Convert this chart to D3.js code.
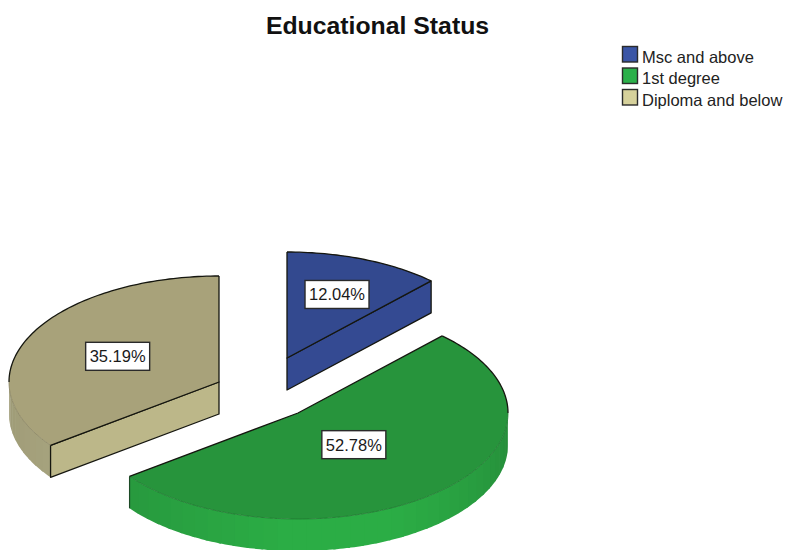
<!DOCTYPE html>
<html>
<head>
<meta charset="utf-8">
<script src="https://cdnjs.cloudflare.com/ajax/libs/d3/7.9.0/d3.min.js"></script>
<style>
html,body{margin:0;padding:0;background:#fff}
svg{display:block}
text{font-family:"Liberation Sans",Arial,sans-serif}
</style>
</head>
<body>
<svg id="chart" width="785" height="550"></svg>
<script>
// Educational status shares
const categories = ["Msc and above", "1st degree", "Diploma and below"];
const percents = [12.04, 52.78, 35.19];
const percentLabels = ["12.04%", "52.78%", "35.19%"];
const titleText = "Educational Status";

// Fill colours per slice
const topColors = ["#33498f", "#27943c", "#a8a27a"];
const cutColors = ["#344a92", "#27943c", "#bcb789"];
const legendColors = ["#3a55a6", "#2bb04a", "#d6d19b"];
const rimEdge = ["#2e4284", "#258a39", "#9d9a76"];
const rimMid = ["#344a92", "#2bad45", "#b2ad87"];

// Projection of the tilted disc, and where each exploded slice sits
const rx = 210, ry = 106, depth = 32;
const apexes = [[287, 358], [298, 413], [219, 382]];
const labelFactor = [0.645, 0.40, 0.54];

const svg = d3.select("#chart");
const slices = d3.pie().sort(null).value(d => d)(percents);
const px = d3.scaleLinear().domain([-1, 1]).range([-rx, rx]);
const py = d3.scaleLinear().domain([-1, 1]).range([ry, -ry]);

const rimPoint = (a, apex, dz = 0) =>
  [apex[0] + px(Math.sin(a)), apex[1] + py(Math.cos(a)) + dz];

const arcPoints = (a0, a1, apex, dz = 0) => {
  const n = Math.max(2, Math.ceil((a1 - a0) / 0.02));
  return d3.range(n + 1).map(i => rimPoint(a0 + (a1 - a0) * i / n, apex, dz));
};

const line = d3.line();
const frontStart = Math.PI / 2, frontEnd = Math.PI * 1.5;

slices.forEach((s, i) => {
  const apex = apexes[i];
  const g = svg.append("g");

  // Outer wall, built from narrow shaded bands where the rim faces the viewer
  const w0 = Math.max(s.startAngle, frontStart), w1 = Math.min(s.endAngle, frontEnd);
  if (w1 > w0) {
    const shade = d3.scaleLinear()
      .domain([frontStart, Math.PI * 0.85, Math.PI * 1.02, frontEnd])
      .range([rimEdge[i], rimMid[i], rimMid[i], rimEdge[i]])
      .interpolate(d3.interpolateRgb);
    const bandCount = Math.ceil((w1 - w0) / 0.07);
    d3.range(bandCount).forEach(b => {
      const a0 = w0 + (w1 - w0) * b / bandCount;
      const a1 = w0 + (w1 - w0) * (b + 1) / bandCount + 0.012;
      const upper = arcPoints(a0, Math.min(a1, w1), apex);
      const lower = arcPoints(a0, Math.min(a1, w1), apex, depth).reverse();
      g.append("path")
        .attr("d", line(upper.concat(lower)) + "Z")
        .attr("fill", shade((a0 + a1) / 2));
    });
  }

  // Cut faces that turn toward the viewer
  const cutAngle = i === 0 ? s.endAngle : (i === 2 ? s.startAngle : null);
  if (cutAngle !== null) {
    const p = rimPoint(cutAngle, apex);
    const corners = [apex, p, [p[0], p[1] + depth], [apex[0], apex[1] + depth]];
    g.append("path")
      .attr("d", line(corners) + "Z")
      .attr("fill", cutColors[i])
      .attr("stroke", "#15160f")
      .attr("stroke-width", 1.3)
      .attr("stroke-linejoin", "round");
  }

  // Short vertical edge on the far end of the wide slice
  if (i === 1) {
    const p = rimPoint(s.endAngle, apex);
    g.append("line")
      .attr("x1", p[0]).attr("y1", p[1])
      .attr("x2", p[0]).attr("y2", p[1] + depth)
      .attr("stroke", "#1c4a26").attr("stroke-width", 1.2);
  }

  // Top face
  const outline = [apex].concat(arcPoints(s.startAngle, s.endAngle, apex));
  g.append("path")
    .attr("d", line(outline) + "Z")
    .attr("fill", topColors[i]);

  // Dark edges of the top face; the front rim stays much fainter
  const hardEnd = Math.min(s.endAngle, frontStart);
  if (hardEnd > s.startAngle) {
    g.append("path")
      .attr("d", line(arcPoints(s.startAngle, hardEnd, apex)))
      .attr("fill", "none").attr("stroke", "#15160f").attr("stroke-width", 1.3);
  }
  const hardStart = Math.max(s.startAngle, frontEnd);
  if (hardStart < s.endAngle) {
    g.append("path")
      .attr("d", line(arcPoints(hardStart, s.endAngle, apex)))
      .attr("fill", "none").attr("stroke", "#15160f").attr("stroke-width", 1.3);
  }
  if (w1 > w0) {
    g.append("path")
      .attr("d", line(arcPoints(w0, w1, apex)))
      .attr("fill", "none").attr("stroke", d3.color(topColors[i]).darker(0.6)).attr("stroke-width", 0.8);
  }
  g.append("path")
    .attr("d", line([rimPoint(s.startAngle, apex), apex, rimPoint(s.endAngle, apex)]))
    .attr("fill", "none").attr("stroke", "#15160f").attr("stroke-width", 1.3)
    .attr("stroke-linejoin", "round");
});

// Percentage labels in white boxes
slices.forEach((s, i) => {
  const mid = (s.startAngle + s.endAngle) / 2;
  const cx = apexes[i][0] + px(Math.sin(mid)) * labelFactor[i];
  const cy = apexes[i][1] + py(Math.cos(mid)) * labelFactor[i];
  svg.append("rect")
    .attr("x", cx - 32).attr("y", cy - 14)
    .attr("width", 64).attr("height", 28)
    .attr("fill", "#fff").attr("stroke", "#2a2a2a").attr("stroke-width", 1.4);
  svg.append("text")
    .attr("x", cx).attr("y", cy + 6)
    .attr("text-anchor", "middle")
    .attr("font-size", 16.5)
    .attr("fill", "#1a1a1a")
    .text(percentLabels[i]);
});

// Title
svg.append("text")
  .attr("x", 377.5).attr("y", 33.5)
  .attr("text-anchor", "middle")
  .attr("font-size", 24.8)
  .attr("font-weight", "bold")
  .attr("fill", "#111")
  .text(titleText);

// Legend
const legendY = d3.scalePoint().domain(categories).range([46, 89]);
const legend = svg.append("g").selectAll("g").data(categories).join("g")
  .attr("transform", d => `translate(622,${legendY(d)})`);
legend.append("rect")
  .attr("x", 0.5).attr("y", 0.5).attr("width", 15).attr("height", 15.5)
  .attr("fill", (d, i) => legendColors[i])
  .attr("stroke", "#2b2b2b").attr("stroke-width", 1.4);
legend.append("text")
  .attr("x", 20).attr("y", 16.5)
  .attr("font-size", 16.5)
  .attr("fill", "#222")
  .text(d => d);
</script>
</body>
</html>
